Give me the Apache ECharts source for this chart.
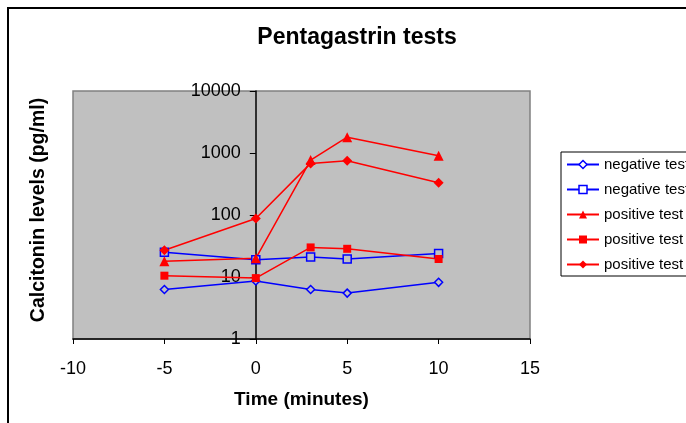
<!DOCTYPE html>
<html>
<head>
<meta charset="utf-8">
<script src="https://cdn.jsdelivr.net/npm/echarts@6/dist/echarts.min.js"></script>
<style>html,body{margin:0;padding:0;background:#fff;}#c{width:686px;height:423px;}</style>
</head>
<body>
<div id="c"></div>
<script>
var times = [-5, 0, 3, 5, 10];
var seriesNames = ['negative test 1', 'negative test 2', 'positive test 1', 'positive test 2', 'positive test 3'];
var negTest1 = [6.3, 8.6, 6.3, 5.5, 8.2];
var negTest2 = [25, 19, 21, 19.5, 24];
var posTest1 = [18, 20, 770, 1800, 900];
var posTest2 = [10.5, 9.6, 30, 28.5, 19.5];
var posTest3 = [27, 88, 680, 750, 330];
var xTicks = [-10, -5, 0, 5, 10, 15];
var yTicks = [1, 10, 100, 1000, 10000];

var FONT = 'Arial, "Liberation Sans", sans-serif';
function pairs(vals) { return times.map(function (t, i) { return [t, vals[i]]; }); }

var styles = [
  {color: '#0000FF', symbol: 'diamond', size: 8, hollow: true},
  {color: '#0000FF', symbol: 'rect', size: 8, hollow: true},
  {color: '#FF0000', symbol: 'triangle', size: 10, hollow: false},
  {color: '#FF0000', symbol: 'rect', size: 8, hollow: false},
  {color: '#FF0000', symbol: 'diamond', size: 10, hollow: false}
];
var allData = [negTest1, negTest2, posTest1, posTest2, posTest3];

var series = allData.map(function (vals, i) {
  var s = styles[i];
  return {
    name: seriesNames[i],
    type: 'line',
    data: pairs(vals),
    symbol: s.symbol,
    symbolSize: s.size,
    showAllSymbol: true,
    lineStyle: {color: s.color, width: 1.5},
    itemStyle: s.hollow ? {color: '#C0C0C0', borderColor: s.color, borderWidth: 1.5}
                        : {color: s.color, borderColor: s.color, borderWidth: 0},
    emphasis: {disabled: true},
    z: 3
  };
});

var gridLeft = 73, gridWidth = 457;
var xMin = -10, xMax = 15;
var yAxisOffset = -(0 - xMin) / (xMax - xMin) * gridWidth;

var chart = echarts.init(document.getElementById('c'), null, {renderer: 'canvas'});
chart.setOption({
  animation: false,
  backgroundColor: '#ffffff',
  title: {
    text: 'Pentagastrin tests',
    left: 352, textAlign: 'center', top: 21,
    textStyle: {fontFamily: FONT, fontSize: 23, fontWeight: 'bold', color: '#000'}
  },
  legend: {
    orient: 'vertical',
    left: 561, top: 152,
    padding: [5, 30, 4, 5],
    itemWidth: 32, itemHeight: 10, itemGap: 10,
    borderColor: '#000', borderWidth: 1,
    backgroundColor: '#fff',
    textStyle: {fontFamily: FONT, fontSize: 15, color: '#000'},
    data: seriesNames.map(function (n, i) {
      var s = styles[i];
      return {name: n, itemStyle: s.hollow ? {color: '#fff', borderColor: s.color, borderWidth: 1.5} : {color: s.color}};
    })
  },
  grid: {
    left: gridLeft, top: 91, width: gridWidth, height: 248,
    show: true, backgroundColor: '#C0C0C0', borderColor: '#808080', borderWidth: 1.5,
    containLabel: false
  },
  xAxis: {
    type: 'value', min: xMin, max: xMax, interval: 5,
    name: 'Time (minutes)', nameLocation: 'middle', nameGap: 51,
    nameTextStyle: {fontFamily: FONT, fontSize: 19, fontWeight: 'bold', color: '#000'},
    axisLine: {show: true, onZero: false, lineStyle: {color: '#000', width: 1.5}},
    axisTick: {show: true, inside: false, length: 5, lineStyle: {color: '#000'}},
    axisLabel: {fontFamily: FONT, fontSize: 18, color: '#000', margin: 21,
      formatter: function (v) { return xTicks.indexOf(v) >= 0 ? String(v) : ''; }},
    splitLine: {show: false}
  },
  yAxis: {
    type: 'log', logBase: 10, min: yTicks[0], max: yTicks[yTicks.length - 1],
    position: 'left', offset: yAxisOffset,
    axisLine: {show: true, onZero: false, lineStyle: {color: '#000', width: 1.5}},
    axisTick: {show: true, inside: false, length: 6, lineStyle: {color: '#000'}},
    minorTick: {show: false},
    axisLabel: {fontFamily: FONT, fontSize: 18, color: '#000', margin: 15,
      formatter: function (v) { return String(Math.round(v)); }},
    splitLine: {show: false}
  },
  graphic: [
    {type: 'rect', shape: {x: 8, y: 8, width: 800, height: 600}, style: {fill: 'none', stroke: '#000', lineWidth: 2}, z: 100, silent: true},
    {type: 'text', x: 39, y: 210, rotation: Math.PI / 2,
     style: {text: 'Calcitonin levels (pg/ml)', fontFamily: FONT, fontSize: 19.5, fontWeight: 'bold', fill: '#000', align: 'center', verticalAlign: 'middle'}}
  ],
  series: series
});
</script>
</body>
</html>
